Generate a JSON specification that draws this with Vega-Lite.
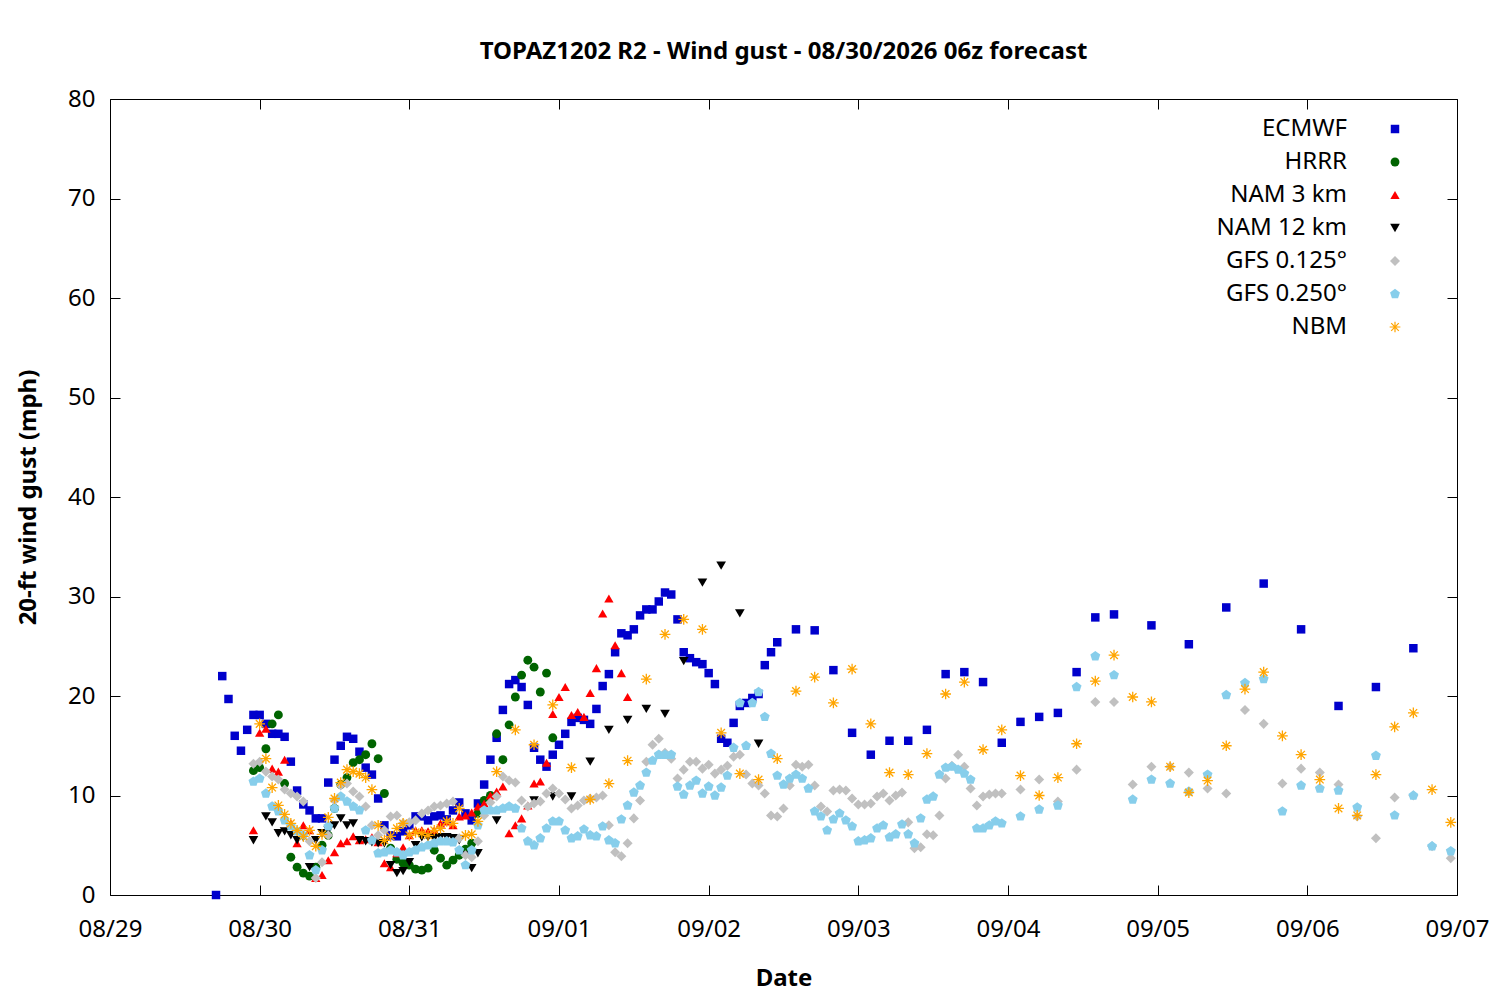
{
  "$schema": "https://vega.github.io/schema/vega-lite/v6.json",
  "width": 1347,
  "height": 796,
  "autosize": {"type": "none"},
  "padding": {"left": 110, "top": 99, "right": 43, "bottom": 105},
  "background": "white",
  "title": {
    "text": "TOPAZ1202 R2 - Wind gust - 08/30/2026 06z forecast",
    "font": "Noto Sans",
    "fontSize": 24,
    "fontWeight": "bold",
    "color": "black",
    "anchor": "middle",
    "offset": 23
  },
  "config": {
    "view": {"stroke": "black", "strokeWidth": 1},
    "axis": {
      "labelFont": "Noto Sans",
      "labelFontSize": 24,
      "labelColor": "black",
      "titleFont": "Noto Sans",
      "titleFontSize": 24,
      "titleFontWeight": "bold",
      "titleColor": "black",
      "grid": false,
      "domain": false,
      "tickColor": "black",
      "tickSize": -10,
      "tickWidth": 1
    },
    "legend": {
      "orient": "none",
      "legendX": 1273,
      "legendY": 18,
      "padding": 0,
      "labelFont": "Noto Sans",
      "labelFontSize": 24,
      "labelColor": "black",
      "labelAlign": "right",
      "labelOffset": -60,
      "symbolSize": 64,
      "symbolStrokeWidth": 1.2,
      "rowPadding": 9
    }
  },
  "data": {
    "values": [
      {"model":"ECMWF","hour":17,"gust":0},{"model":"ECMWF","hour":18,"gust":22},{"model":"ECMWF","hour":19,"gust":19.7},{"model":"ECMWF","hour":20,"gust":16},{"model":"ECMWF","hour":21,"gust":14.5},{"model":"ECMWF","hour":22,"gust":16.6},{"model":"ECMWF","hour":23,"gust":18.1},{"model":"ECMWF","hour":24,"gust":18.1},{"model":"ECMWF","hour":25,"gust":17.2},{"model":"ECMWF","hour":26,"gust":16.2},{"model":"ECMWF","hour":27,"gust":16.2},{"model":"ECMWF","hour":28,"gust":15.9},{"model":"ECMWF","hour":29,"gust":13.4},{"model":"ECMWF","hour":30,"gust":10.5},{"model":"ECMWF","hour":31,"gust":9.1},{"model":"ECMWF","hour":32,"gust":8.5},{"model":"ECMWF","hour":33,"gust":7.7},{"model":"ECMWF","hour":34,"gust":7.7},{"model":"ECMWF","hour":35,"gust":11.3},{"model":"ECMWF","hour":36,"gust":13.6},{"model":"ECMWF","hour":37,"gust":15},{"model":"ECMWF","hour":38,"gust":15.9},{"model":"ECMWF","hour":39,"gust":15.7},{"model":"ECMWF","hour":40,"gust":14.4},{"model":"ECMWF","hour":41,"gust":12.8},{"model":"ECMWF","hour":42,"gust":12.1},{"model":"ECMWF","hour":43,"gust":9.7},{"model":"ECMWF","hour":44,"gust":7},{"model":"ECMWF","hour":45,"gust":6},{"model":"ECMWF","hour":46,"gust":5.9},{"model":"ECMWF","hour":47,"gust":6.4},{"model":"ECMWF","hour":48,"gust":7},{"model":"ECMWF","hour":49,"gust":7.9},{"model":"ECMWF","hour":50,"gust":7.9},{"model":"ECMWF","hour":51,"gust":7.5},{"model":"ECMWF","hour":52,"gust":7.9},{"model":"ECMWF","hour":53,"gust":8},{"model":"ECMWF","hour":54,"gust":7.6},{"model":"ECMWF","hour":55,"gust":8.5},{"model":"ECMWF","hour":56,"gust":9.3},{"model":"ECMWF","hour":57,"gust":8.2},{"model":"ECMWF","hour":58,"gust":7.5},{"model":"ECMWF","hour":59,"gust":9.2},{"model":"ECMWF","hour":60,"gust":11.1},{"model":"ECMWF","hour":61,"gust":13.6},{"model":"ECMWF","hour":62,"gust":15.8},{"model":"ECMWF","hour":63,"gust":18.6},{"model":"ECMWF","hour":64,"gust":21.2},{"model":"ECMWF","hour":65,"gust":21.6},{"model":"ECMWF","hour":66,"gust":20.9},{"model":"ECMWF","hour":67,"gust":19.1},{"model":"ECMWF","hour":68,"gust":14.8},{"model":"ECMWF","hour":69,"gust":13.6},{"model":"ECMWF","hour":70,"gust":12.9},{"model":"ECMWF","hour":71,"gust":14.1},{"model":"ECMWF","hour":72,"gust":15.1},{"model":"ECMWF","hour":73,"gust":16.2},{"model":"ECMWF","hour":74,"gust":17.4},{"model":"ECMWF","hour":75,"gust":17.8},{"model":"ECMWF","hour":76,"gust":17.6},{"model":"ECMWF","hour":77,"gust":17.2},{"model":"ECMWF","hour":78,"gust":18.7},{"model":"ECMWF","hour":79,"gust":21},{"model":"ECMWF","hour":80,"gust":22.2},{"model":"ECMWF","hour":81,"gust":24.4},{"model":"ECMWF","hour":82,"gust":26.3},{"model":"ECMWF","hour":83,"gust":26.1},{"model":"ECMWF","hour":84,"gust":26.7},{"model":"ECMWF","hour":85,"gust":28.1},{"model":"ECMWF","hour":86,"gust":28.7},{"model":"ECMWF","hour":87,"gust":28.7},{"model":"ECMWF","hour":88,"gust":29.5},{"model":"ECMWF","hour":89,"gust":30.4},{"model":"ECMWF","hour":90,"gust":30.2},{"model":"ECMWF","hour":91,"gust":27.7},{"model":"ECMWF","hour":92,"gust":24.4},{"model":"ECMWF","hour":93,"gust":23.8},{"model":"ECMWF","hour":94,"gust":23.4},{"model":"ECMWF","hour":95,"gust":23.2},{"model":"ECMWF","hour":96,"gust":22.3},{"model":"ECMWF","hour":97,"gust":21.2},{"model":"ECMWF","hour":98,"gust":15.7},{"model":"ECMWF","hour":99,"gust":15.3},{"model":"ECMWF","hour":100,"gust":17.3},{"model":"ECMWF","hour":101,"gust":19},{"model":"ECMWF","hour":102,"gust":19.3},{"model":"ECMWF","hour":103,"gust":19.8},{"model":"ECMWF","hour":104,"gust":20.2},{"model":"ECMWF","hour":105,"gust":23.1},{"model":"ECMWF","hour":106,"gust":24.4},{"model":"ECMWF","hour":107,"gust":25.4},{"model":"ECMWF","hour":110,"gust":26.7},{"model":"ECMWF","hour":113,"gust":26.6},{"model":"ECMWF","hour":116,"gust":22.6},{"model":"ECMWF","hour":119,"gust":16.3},{"model":"ECMWF","hour":122,"gust":14.1},{"model":"ECMWF","hour":125,"gust":15.5},{"model":"ECMWF","hour":128,"gust":15.5},{"model":"ECMWF","hour":131,"gust":16.6},{"model":"ECMWF","hour":134,"gust":22.2},{"model":"ECMWF","hour":137,"gust":22.4},{"model":"ECMWF","hour":140,"gust":21.4},{"model":"ECMWF","hour":143,"gust":15.3},{"model":"ECMWF","hour":146,"gust":17.4},{"model":"ECMWF","hour":149,"gust":17.9},{"model":"ECMWF","hour":152,"gust":18.3},{"model":"ECMWF","hour":155,"gust":22.4},{"model":"ECMWF","hour":158,"gust":27.9},{"model":"ECMWF","hour":161,"gust":28.2},{"model":"ECMWF","hour":167,"gust":27.1},{"model":"ECMWF","hour":173,"gust":25.2},{"model":"ECMWF","hour":179,"gust":28.9},{"model":"ECMWF","hour":185,"gust":31.3},{"model":"ECMWF","hour":191,"gust":26.7},{"model":"ECMWF","hour":197,"gust":19},{"model":"ECMWF","hour":203,"gust":20.9},{"model":"ECMWF","hour":209,"gust":24.8},
      {"model":"HRRR","hour":23,"gust":12.5},{"model":"HRRR","hour":24,"gust":12.8},{"model":"HRRR","hour":25,"gust":14.7},{"model":"HRRR","hour":26,"gust":17.2},{"model":"HRRR","hour":27,"gust":18.1},{"model":"HRRR","hour":28,"gust":11.2},{"model":"HRRR","hour":29,"gust":3.8},{"model":"HRRR","hour":30,"gust":2.8},{"model":"HRRR","hour":31,"gust":2.2},{"model":"HRRR","hour":32,"gust":1.9},{"model":"HRRR","hour":33,"gust":2.8},{"model":"HRRR","hour":34,"gust":5},{"model":"HRRR","hour":35,"gust":6},{"model":"HRRR","hour":36,"gust":8.7},{"model":"HRRR","hour":37,"gust":11.1},{"model":"HRRR","hour":38,"gust":11.8},{"model":"HRRR","hour":39,"gust":13.3},{"model":"HRRR","hour":40,"gust":13.6},{"model":"HRRR","hour":41,"gust":14.1},{"model":"HRRR","hour":42,"gust":15.2},{"model":"HRRR","hour":43,"gust":13.7},{"model":"HRRR","hour":44,"gust":10.2},{"model":"HRRR","hour":45,"gust":4.7},{"model":"HRRR","hour":46,"gust":3.6},{"model":"HRRR","hour":47,"gust":3.2},{"model":"HRRR","hour":48,"gust":3},{"model":"HRRR","hour":49,"gust":2.6},{"model":"HRRR","hour":50,"gust":2.5},{"model":"HRRR","hour":51,"gust":2.7},{"model":"HRRR","hour":52,"gust":4.5},{"model":"HRRR","hour":53,"gust":3.7},{"model":"HRRR","hour":54,"gust":3},{"model":"HRRR","hour":55,"gust":3.5},{"model":"HRRR","hour":56,"gust":4},{"model":"HRRR","hour":57,"gust":4.6},{"model":"HRRR","hour":58,"gust":5.2},{"model":"HRRR","hour":59,"gust":8.2},{"model":"HRRR","hour":60,"gust":9.5},{"model":"HRRR","hour":61,"gust":10},{"model":"HRRR","hour":62,"gust":16.2},{"model":"HRRR","hour":63,"gust":13.6},{"model":"HRRR","hour":64,"gust":17.1},{"model":"HRRR","hour":65,"gust":19.9},{"model":"HRRR","hour":66,"gust":22.1},{"model":"HRRR","hour":67,"gust":23.6},{"model":"HRRR","hour":68,"gust":22.9},{"model":"HRRR","hour":69,"gust":20.4},{"model":"HRRR","hour":70,"gust":22.3},{"model":"HRRR","hour":71,"gust":15.8},
      {"model":"NAM 3 km","hour":23,"gust":6.5},{"model":"NAM 3 km","hour":24,"gust":16.3},{"model":"NAM 3 km","hour":25,"gust":16.7},{"model":"NAM 3 km","hour":26,"gust":12.7},{"model":"NAM 3 km","hour":27,"gust":12.4},{"model":"NAM 3 km","hour":28,"gust":13.6},{"model":"NAM 3 km","hour":29,"gust":7.2},{"model":"NAM 3 km","hour":30,"gust":5.2},{"model":"NAM 3 km","hour":31,"gust":7},{"model":"NAM 3 km","hour":32,"gust":6.5},{"model":"NAM 3 km","hour":33,"gust":1.7},{"model":"NAM 3 km","hour":34,"gust":2},{"model":"NAM 3 km","hour":35,"gust":3.5},{"model":"NAM 3 km","hour":36,"gust":4.3},{"model":"NAM 3 km","hour":37,"gust":5.2},{"model":"NAM 3 km","hour":38,"gust":5.4},{"model":"NAM 3 km","hour":39,"gust":5.9},{"model":"NAM 3 km","hour":40,"gust":5.5},{"model":"NAM 3 km","hour":41,"gust":5.6},{"model":"NAM 3 km","hour":42,"gust":5.8},{"model":"NAM 3 km","hour":43,"gust":5.3},{"model":"NAM 3 km","hour":44,"gust":3.2},{"model":"NAM 3 km","hour":45,"gust":2.8},{"model":"NAM 3 km","hour":46,"gust":4.2},{"model":"NAM 3 km","hour":47,"gust":4.8},{"model":"NAM 3 km","hour":48,"gust":6},{"model":"NAM 3 km","hour":49,"gust":6.5},{"model":"NAM 3 km","hour":50,"gust":6.5},{"model":"NAM 3 km","hour":51,"gust":6.4},{"model":"NAM 3 km","hour":52,"gust":6.5},{"model":"NAM 3 km","hour":53,"gust":7.2},{"model":"NAM 3 km","hour":54,"gust":7.4},{"model":"NAM 3 km","hour":55,"gust":7},{"model":"NAM 3 km","hour":56,"gust":7.9},{"model":"NAM 3 km","hour":57,"gust":8},{"model":"NAM 3 km","hour":58,"gust":8.3},{"model":"NAM 3 km","hour":59,"gust":8.9},{"model":"NAM 3 km","hour":60,"gust":9.2},{"model":"NAM 3 km","hour":61,"gust":10},{"model":"NAM 3 km","hour":62,"gust":10.4},{"model":"NAM 3 km","hour":63,"gust":10.9},{"model":"NAM 3 km","hour":64,"gust":6.2},{"model":"NAM 3 km","hour":65,"gust":7},{"model":"NAM 3 km","hour":66,"gust":7.7},{"model":"NAM 3 km","hour":67,"gust":9},{"model":"NAM 3 km","hour":68,"gust":11.2},{"model":"NAM 3 km","hour":69,"gust":11.4},{"model":"NAM 3 km","hour":70,"gust":13.3},{"model":"NAM 3 km","hour":71,"gust":18.2},{"model":"NAM 3 km","hour":72,"gust":19.9},{"model":"NAM 3 km","hour":73,"gust":20.9},{"model":"NAM 3 km","hour":74,"gust":18.1},{"model":"NAM 3 km","hour":75,"gust":18.4},{"model":"NAM 3 km","hour":76,"gust":17.9},{"model":"NAM 3 km","hour":77,"gust":20.3},{"model":"NAM 3 km","hour":78,"gust":22.8},{"model":"NAM 3 km","hour":79,"gust":28.3},{"model":"NAM 3 km","hour":80,"gust":29.8},{"model":"NAM 3 km","hour":81,"gust":25.1},{"model":"NAM 3 km","hour":82,"gust":22.3},{"model":"NAM 3 km","hour":83,"gust":19.9},
      {"model":"NAM 12 km","hour":23,"gust":5.5},{"model":"NAM 12 km","hour":25,"gust":7.9},{"model":"NAM 12 km","hour":26,"gust":7.3},{"model":"NAM 12 km","hour":27,"gust":6.2},{"model":"NAM 12 km","hour":28,"gust":6.4},{"model":"NAM 12 km","hour":29,"gust":6},{"model":"NAM 12 km","hour":30,"gust":5.5},{"model":"NAM 12 km","hour":31,"gust":5.8},{"model":"NAM 12 km","hour":32,"gust":2.8},{"model":"NAM 12 km","hour":33,"gust":5.5},{"model":"NAM 12 km","hour":34,"gust":6.2},{"model":"NAM 12 km","hour":35,"gust":6.5},{"model":"NAM 12 km","hour":36,"gust":7},{"model":"NAM 12 km","hour":37,"gust":7.7},{"model":"NAM 12 km","hour":38,"gust":7},{"model":"NAM 12 km","hour":39,"gust":7.2},{"model":"NAM 12 km","hour":40,"gust":5.5},{"model":"NAM 12 km","hour":41,"gust":5.4},{"model":"NAM 12 km","hour":42,"gust":5.3},{"model":"NAM 12 km","hour":43,"gust":5.2},{"model":"NAM 12 km","hour":44,"gust":5.2},{"model":"NAM 12 km","hour":45,"gust":3},{"model":"NAM 12 km","hour":46,"gust":2.2},{"model":"NAM 12 km","hour":47,"gust":2.4},{"model":"NAM 12 km","hour":48,"gust":3.3},{"model":"NAM 12 km","hour":49,"gust":5},{"model":"NAM 12 km","hour":50,"gust":5.8},{"model":"NAM 12 km","hour":51,"gust":5.8},{"model":"NAM 12 km","hour":52,"gust":5.7},{"model":"NAM 12 km","hour":53,"gust":5.8},{"model":"NAM 12 km","hour":54,"gust":5.8},{"model":"NAM 12 km","hour":55,"gust":5.7},{"model":"NAM 12 km","hour":56,"gust":5.5},{"model":"NAM 12 km","hour":57,"gust":4},{"model":"NAM 12 km","hour":58,"gust":2.7},{"model":"NAM 12 km","hour":59,"gust":4.2},{"model":"NAM 12 km","hour":62,"gust":7.5},{"model":"NAM 12 km","hour":68,"gust":9.5},{"model":"NAM 12 km","hour":71,"gust":9.9},{"model":"NAM 12 km","hour":74,"gust":9.9},{"model":"NAM 12 km","hour":77,"gust":13.4},{"model":"NAM 12 km","hour":80,"gust":16.6},{"model":"NAM 12 km","hour":83,"gust":17.6},{"model":"NAM 12 km","hour":86,"gust":18.7},{"model":"NAM 12 km","hour":89,"gust":18.2},{"model":"NAM 12 km","hour":92,"gust":23.5},{"model":"NAM 12 km","hour":95,"gust":31.4},{"model":"NAM 12 km","hour":98,"gust":33.1},{"model":"NAM 12 km","hour":101,"gust":28.3},{"model":"NAM 12 km","hour":104,"gust":15.2},
      {"model":"GFS 0.125°","hour":23,"gust":13.2},{"model":"GFS 0.125°","hour":24,"gust":13.4},{"model":"GFS 0.125°","hour":25,"gust":12.4},{"model":"GFS 0.125°","hour":26,"gust":11.9},{"model":"GFS 0.125°","hour":27,"gust":11.6},{"model":"GFS 0.125°","hour":28,"gust":10.6},{"model":"GFS 0.125°","hour":29,"gust":10.2},{"model":"GFS 0.125°","hour":30,"gust":9.9},{"model":"GFS 0.125°","hour":31,"gust":9.4},{"model":"GFS 0.125°","hour":32,"gust":5.4},{"model":"GFS 0.125°","hour":33,"gust":1.7},{"model":"GFS 0.125°","hour":34,"gust":3.3},{"model":"GFS 0.125°","hour":35,"gust":6},{"model":"GFS 0.125°","hour":36,"gust":9.5},{"model":"GFS 0.125°","hour":37,"gust":11},{"model":"GFS 0.125°","hour":38,"gust":11.2},{"model":"GFS 0.125°","hour":39,"gust":10.4},{"model":"GFS 0.125°","hour":40,"gust":9.9},{"model":"GFS 0.125°","hour":41,"gust":8.9},{"model":"GFS 0.125°","hour":42,"gust":7},{"model":"GFS 0.125°","hour":43,"gust":6},{"model":"GFS 0.125°","hour":44,"gust":6.5},{"model":"GFS 0.125°","hour":45,"gust":7.9},{"model":"GFS 0.125°","hour":46,"gust":8},{"model":"GFS 0.125°","hour":47,"gust":7.2},{"model":"GFS 0.125°","hour":48,"gust":7.3},{"model":"GFS 0.125°","hour":49,"gust":7.5},{"model":"GFS 0.125°","hour":50,"gust":8.2},{"model":"GFS 0.125°","hour":51,"gust":8.5},{"model":"GFS 0.125°","hour":52,"gust":8.9},{"model":"GFS 0.125°","hour":53,"gust":9},{"model":"GFS 0.125°","hour":54,"gust":9.2},{"model":"GFS 0.125°","hour":55,"gust":9.4},{"model":"GFS 0.125°","hour":56,"gust":5.7},{"model":"GFS 0.125°","hour":57,"gust":4},{"model":"GFS 0.125°","hour":58,"gust":3.8},{"model":"GFS 0.125°","hour":59,"gust":5.4},{"model":"GFS 0.125°","hour":60,"gust":8},{"model":"GFS 0.125°","hour":61,"gust":9.3},{"model":"GFS 0.125°","hour":62,"gust":9.9},{"model":"GFS 0.125°","hour":63,"gust":11.9},{"model":"GFS 0.125°","hour":64,"gust":11.5},{"model":"GFS 0.125°","hour":65,"gust":11.3},{"model":"GFS 0.125°","hour":66,"gust":9.5},{"model":"GFS 0.125°","hour":67,"gust":8.9},{"model":"GFS 0.125°","hour":68,"gust":9.2},{"model":"GFS 0.125°","hour":69,"gust":9.4},{"model":"GFS 0.125°","hour":70,"gust":10.2},{"model":"GFS 0.125°","hour":71,"gust":10.7},{"model":"GFS 0.125°","hour":72,"gust":10.2},{"model":"GFS 0.125°","hour":73,"gust":9.6},{"model":"GFS 0.125°","hour":74,"gust":8.7},{"model":"GFS 0.125°","hour":75,"gust":9},{"model":"GFS 0.125°","hour":76,"gust":9.5},{"model":"GFS 0.125°","hour":77,"gust":9.7},{"model":"GFS 0.125°","hour":78,"gust":9.8},{"model":"GFS 0.125°","hour":79,"gust":10},{"model":"GFS 0.125°","hour":80,"gust":7},{"model":"GFS 0.125°","hour":81,"gust":4.3},{"model":"GFS 0.125°","hour":82,"gust":3.9},{"model":"GFS 0.125°","hour":83,"gust":5.2},{"model":"GFS 0.125°","hour":84,"gust":7.7},{"model":"GFS 0.125°","hour":85,"gust":9.5},{"model":"GFS 0.125°","hour":86,"gust":13.4},{"model":"GFS 0.125°","hour":87,"gust":15.1},{"model":"GFS 0.125°","hour":88,"gust":15.7},{"model":"GFS 0.125°","hour":89,"gust":14.3},{"model":"GFS 0.125°","hour":90,"gust":13.7},{"model":"GFS 0.125°","hour":91,"gust":11.7},{"model":"GFS 0.125°","hour":92,"gust":12.6},{"model":"GFS 0.125°","hour":93,"gust":13.4},{"model":"GFS 0.125°","hour":94,"gust":13.4},{"model":"GFS 0.125°","hour":95,"gust":12.7},{"model":"GFS 0.125°","hour":96,"gust":13.1},{"model":"GFS 0.125°","hour":97,"gust":12.2},{"model":"GFS 0.125°","hour":98,"gust":12.6},{"model":"GFS 0.125°","hour":99,"gust":13},{"model":"GFS 0.125°","hour":100,"gust":13.9},{"model":"GFS 0.125°","hour":101,"gust":14.1},{"model":"GFS 0.125°","hour":102,"gust":12.1},{"model":"GFS 0.125°","hour":103,"gust":11.2},{"model":"GFS 0.125°","hour":104,"gust":11},{"model":"GFS 0.125°","hour":105,"gust":10.2},{"model":"GFS 0.125°","hour":106,"gust":8},{"model":"GFS 0.125°","hour":107,"gust":7.9},{"model":"GFS 0.125°","hour":108,"gust":8.7},{"model":"GFS 0.125°","hour":109,"gust":11},{"model":"GFS 0.125°","hour":110,"gust":13.1},{"model":"GFS 0.125°","hour":111,"gust":12.9},{"model":"GFS 0.125°","hour":112,"gust":13.1},{"model":"GFS 0.125°","hour":113,"gust":11},{"model":"GFS 0.125°","hour":114,"gust":8.9},{"model":"GFS 0.125°","hour":115,"gust":8.4},{"model":"GFS 0.125°","hour":116,"gust":10.5},{"model":"GFS 0.125°","hour":117,"gust":10.6},{"model":"GFS 0.125°","hour":118,"gust":10.5},{"model":"GFS 0.125°","hour":119,"gust":9.7},{"model":"GFS 0.125°","hour":120,"gust":9.1},{"model":"GFS 0.125°","hour":121,"gust":9.1},{"model":"GFS 0.125°","hour":122,"gust":9.2},{"model":"GFS 0.125°","hour":123,"gust":9.9},{"model":"GFS 0.125°","hour":124,"gust":10.2},{"model":"GFS 0.125°","hour":125,"gust":9.5},{"model":"GFS 0.125°","hour":126,"gust":10},{"model":"GFS 0.125°","hour":127,"gust":10.3},{"model":"GFS 0.125°","hour":128,"gust":7.3},{"model":"GFS 0.125°","hour":129,"gust":4.7},{"model":"GFS 0.125°","hour":130,"gust":4.8},{"model":"GFS 0.125°","hour":131,"gust":6.1},{"model":"GFS 0.125°","hour":132,"gust":6},{"model":"GFS 0.125°","hour":133,"gust":8},{"model":"GFS 0.125°","hour":134,"gust":11.7},{"model":"GFS 0.125°","hour":135,"gust":13},{"model":"GFS 0.125°","hour":136,"gust":14.1},{"model":"GFS 0.125°","hour":137,"gust":12.9},{"model":"GFS 0.125°","hour":138,"gust":10.7},{"model":"GFS 0.125°","hour":139,"gust":9},{"model":"GFS 0.125°","hour":140,"gust":9.9},{"model":"GFS 0.125°","hour":141,"gust":10.1},{"model":"GFS 0.125°","hour":142,"gust":10.2},{"model":"GFS 0.125°","hour":143,"gust":10.2},{"model":"GFS 0.125°","hour":146,"gust":10.6},{"model":"GFS 0.125°","hour":149,"gust":11.6},{"model":"GFS 0.125°","hour":152,"gust":9.4},{"model":"GFS 0.125°","hour":155,"gust":12.6},{"model":"GFS 0.125°","hour":158,"gust":19.4},{"model":"GFS 0.125°","hour":161,"gust":19.4},{"model":"GFS 0.125°","hour":164,"gust":11.1},{"model":"GFS 0.125°","hour":167,"gust":12.9},{"model":"GFS 0.125°","hour":170,"gust":12.9},{"model":"GFS 0.125°","hour":173,"gust":12.3},{"model":"GFS 0.125°","hour":176,"gust":10.7},{"model":"GFS 0.125°","hour":179,"gust":10.2},{"model":"GFS 0.125°","hour":182,"gust":18.6},{"model":"GFS 0.125°","hour":185,"gust":17.2},{"model":"GFS 0.125°","hour":188,"gust":11.2},{"model":"GFS 0.125°","hour":191,"gust":12.7},{"model":"GFS 0.125°","hour":194,"gust":12.3},{"model":"GFS 0.125°","hour":197,"gust":11.1},{"model":"GFS 0.125°","hour":200,"gust":7.9},{"model":"GFS 0.125°","hour":203,"gust":5.7},{"model":"GFS 0.125°","hour":206,"gust":9.8},{"model":"GFS 0.125°","hour":209,"gust":10},{"model":"GFS 0.125°","hour":212,"gust":4.9},{"model":"GFS 0.125°","hour":215,"gust":3.7},
      {"model":"GFS 0.250°","hour":23,"gust":11.4},{"model":"GFS 0.250°","hour":24,"gust":11.7},{"model":"GFS 0.250°","hour":25,"gust":10.2},{"model":"GFS 0.250°","hour":26,"gust":8.9},{"model":"GFS 0.250°","hour":27,"gust":8.4},{"model":"GFS 0.250°","hour":28,"gust":7.5},{"model":"GFS 0.250°","hour":29,"gust":6.9},{"model":"GFS 0.250°","hour":30,"gust":6.4},{"model":"GFS 0.250°","hour":31,"gust":6},{"model":"GFS 0.250°","hour":32,"gust":4},{"model":"GFS 0.250°","hour":33,"gust":2.5},{"model":"GFS 0.250°","hour":34,"gust":4.5},{"model":"GFS 0.250°","hour":35,"gust":6.9},{"model":"GFS 0.250°","hour":36,"gust":8.7},{"model":"GFS 0.250°","hour":37,"gust":9.9},{"model":"GFS 0.250°","hour":38,"gust":9.4},{"model":"GFS 0.250°","hour":39,"gust":8.9},{"model":"GFS 0.250°","hour":40,"gust":8.5},{"model":"GFS 0.250°","hour":41,"gust":6.5},{"model":"GFS 0.250°","hour":42,"gust":5.5},{"model":"GFS 0.250°","hour":43,"gust":4.2},{"model":"GFS 0.250°","hour":44,"gust":4.3},{"model":"GFS 0.250°","hour":45,"gust":4.5},{"model":"GFS 0.250°","hour":46,"gust":4.3},{"model":"GFS 0.250°","hour":47,"gust":4},{"model":"GFS 0.250°","hour":48,"gust":4.3},{"model":"GFS 0.250°","hour":49,"gust":4.5},{"model":"GFS 0.250°","hour":50,"gust":4.8},{"model":"GFS 0.250°","hour":51,"gust":5},{"model":"GFS 0.250°","hour":52,"gust":5.2},{"model":"GFS 0.250°","hour":53,"gust":5.4},{"model":"GFS 0.250°","hour":54,"gust":5.4},{"model":"GFS 0.250°","hour":55,"gust":5.3},{"model":"GFS 0.250°","hour":56,"gust":4.5},{"model":"GFS 0.250°","hour":57,"gust":3},{"model":"GFS 0.250°","hour":58,"gust":4.5},{"model":"GFS 0.250°","hour":59,"gust":7},{"model":"GFS 0.250°","hour":60,"gust":8.5},{"model":"GFS 0.250°","hour":61,"gust":8.5},{"model":"GFS 0.250°","hour":62,"gust":8.5},{"model":"GFS 0.250°","hour":63,"gust":8.7},{"model":"GFS 0.250°","hour":64,"gust":8.9},{"model":"GFS 0.250°","hour":65,"gust":8.7},{"model":"GFS 0.250°","hour":66,"gust":6.7},{"model":"GFS 0.250°","hour":67,"gust":5.4},{"model":"GFS 0.250°","hour":68,"gust":5},{"model":"GFS 0.250°","hour":69,"gust":5.7},{"model":"GFS 0.250°","hour":70,"gust":6.7},{"model":"GFS 0.250°","hour":71,"gust":7.4},{"model":"GFS 0.250°","hour":72,"gust":7.4},{"model":"GFS 0.250°","hour":73,"gust":6.5},{"model":"GFS 0.250°","hour":74,"gust":5.7},{"model":"GFS 0.250°","hour":75,"gust":5.9},{"model":"GFS 0.250°","hour":76,"gust":6.6},{"model":"GFS 0.250°","hour":77,"gust":6},{"model":"GFS 0.250°","hour":78,"gust":5.9},{"model":"GFS 0.250°","hour":79,"gust":6.9},{"model":"GFS 0.250°","hour":80,"gust":5.5},{"model":"GFS 0.250°","hour":81,"gust":5.2},{"model":"GFS 0.250°","hour":82,"gust":7.6},{"model":"GFS 0.250°","hour":83,"gust":9},{"model":"GFS 0.250°","hour":84,"gust":10.3},{"model":"GFS 0.250°","hour":85,"gust":11},{"model":"GFS 0.250°","hour":86,"gust":12.3},{"model":"GFS 0.250°","hour":87,"gust":13.5},{"model":"GFS 0.250°","hour":88,"gust":14.1},{"model":"GFS 0.250°","hour":89,"gust":14.1},{"model":"GFS 0.250°","hour":90,"gust":14.1},{"model":"GFS 0.250°","hour":91,"gust":10.9},{"model":"GFS 0.250°","hour":92,"gust":10.1},{"model":"GFS 0.250°","hour":93,"gust":11},{"model":"GFS 0.250°","hour":94,"gust":11.5},{"model":"GFS 0.250°","hour":95,"gust":10.2},{"model":"GFS 0.250°","hour":96,"gust":10.9},{"model":"GFS 0.250°","hour":97,"gust":10},{"model":"GFS 0.250°","hour":98,"gust":10.8},{"model":"GFS 0.250°","hour":99,"gust":12},{"model":"GFS 0.250°","hour":100,"gust":14.8},{"model":"GFS 0.250°","hour":101,"gust":19.3},{"model":"GFS 0.250°","hour":102,"gust":15},{"model":"GFS 0.250°","hour":103,"gust":19.3},{"model":"GFS 0.250°","hour":104,"gust":20.4},{"model":"GFS 0.250°","hour":105,"gust":17.9},{"model":"GFS 0.250°","hour":106,"gust":14.2},{"model":"GFS 0.250°","hour":107,"gust":12},{"model":"GFS 0.250°","hour":108,"gust":11.1},{"model":"GFS 0.250°","hour":109,"gust":11.7},{"model":"GFS 0.250°","hour":110,"gust":12.1},{"model":"GFS 0.250°","hour":111,"gust":11.7},{"model":"GFS 0.250°","hour":112,"gust":10.7},{"model":"GFS 0.250°","hour":113,"gust":8.4},{"model":"GFS 0.250°","hour":114,"gust":7.9},{"model":"GFS 0.250°","hour":115,"gust":6.5},{"model":"GFS 0.250°","hour":116,"gust":7.6},{"model":"GFS 0.250°","hour":117,"gust":8.2},{"model":"GFS 0.250°","hour":118,"gust":7.5},{"model":"GFS 0.250°","hour":119,"gust":6.9},{"model":"GFS 0.250°","hour":120,"gust":5.4},{"model":"GFS 0.250°","hour":121,"gust":5.5},{"model":"GFS 0.250°","hour":122,"gust":5.7},{"model":"GFS 0.250°","hour":123,"gust":6.7},{"model":"GFS 0.250°","hour":124,"gust":7},{"model":"GFS 0.250°","hour":125,"gust":5.8},{"model":"GFS 0.250°","hour":126,"gust":6.1},{"model":"GFS 0.250°","hour":127,"gust":7.1},{"model":"GFS 0.250°","hour":128,"gust":6.1},{"model":"GFS 0.250°","hour":129,"gust":5.2},{"model":"GFS 0.250°","hour":130,"gust":7.7},{"model":"GFS 0.250°","hour":131,"gust":9.6},{"model":"GFS 0.250°","hour":132,"gust":9.9},{"model":"GFS 0.250°","hour":133,"gust":12.1},{"model":"GFS 0.250°","hour":134,"gust":12.8},{"model":"GFS 0.250°","hour":135,"gust":12.9},{"model":"GFS 0.250°","hour":136,"gust":12.6},{"model":"GFS 0.250°","hour":137,"gust":12.2},{"model":"GFS 0.250°","hour":138,"gust":11.6},{"model":"GFS 0.250°","hour":139,"gust":6.7},{"model":"GFS 0.250°","hour":140,"gust":6.7},{"model":"GFS 0.250°","hour":141,"gust":7},{"model":"GFS 0.250°","hour":142,"gust":7.4},{"model":"GFS 0.250°","hour":143,"gust":7.2},{"model":"GFS 0.250°","hour":146,"gust":7.9},{"model":"GFS 0.250°","hour":149,"gust":8.6},{"model":"GFS 0.250°","hour":152,"gust":9},{"model":"GFS 0.250°","hour":155,"gust":20.9},{"model":"GFS 0.250°","hour":158,"gust":24},{"model":"GFS 0.250°","hour":161,"gust":22.1},{"model":"GFS 0.250°","hour":164,"gust":9.6},{"model":"GFS 0.250°","hour":167,"gust":11.6},{"model":"GFS 0.250°","hour":170,"gust":11.2},{"model":"GFS 0.250°","hour":173,"gust":10.4},{"model":"GFS 0.250°","hour":176,"gust":12.1},{"model":"GFS 0.250°","hour":179,"gust":20.1},{"model":"GFS 0.250°","hour":182,"gust":21.3},{"model":"GFS 0.250°","hour":185,"gust":21.7},{"model":"GFS 0.250°","hour":188,"gust":8.4},{"model":"GFS 0.250°","hour":191,"gust":11},{"model":"GFS 0.250°","hour":194,"gust":10.7},{"model":"GFS 0.250°","hour":197,"gust":10.5},{"model":"GFS 0.250°","hour":200,"gust":8.8},{"model":"GFS 0.250°","hour":203,"gust":14},{"model":"GFS 0.250°","hour":206,"gust":8},{"model":"GFS 0.250°","hour":209,"gust":10},{"model":"GFS 0.250°","hour":212,"gust":4.9},{"model":"GFS 0.250°","hour":215,"gust":4.4},
      {"model":"NBM","hour":24,"gust":17.2},{"model":"NBM","hour":25,"gust":13.7},{"model":"NBM","hour":26,"gust":10.8},{"model":"NBM","hour":27,"gust":9},{"model":"NBM","hour":28,"gust":8.1},{"model":"NBM","hour":29,"gust":7.2},{"model":"NBM","hour":30,"gust":6.5},{"model":"NBM","hour":31,"gust":5.9},{"model":"NBM","hour":32,"gust":6.5},{"model":"NBM","hour":33,"gust":4.9},{"model":"NBM","hour":34,"gust":6.1},{"model":"NBM","hour":35,"gust":7.8},{"model":"NBM","hour":36,"gust":9.7},{"model":"NBM","hour":37,"gust":11.3},{"model":"NBM","hour":38,"gust":12.6},{"model":"NBM","hour":39,"gust":12.4},{"model":"NBM","hour":40,"gust":12.2},{"model":"NBM","hour":41,"gust":11.8},{"model":"NBM","hour":42,"gust":10.6},{"model":"NBM","hour":43,"gust":7},{"model":"NBM","hour":44,"gust":5.5},{"model":"NBM","hour":45,"gust":5.9},{"model":"NBM","hour":46,"gust":6.7},{"model":"NBM","hour":47,"gust":7.2},{"model":"NBM","hour":48,"gust":6},{"model":"NBM","hour":49,"gust":6.3},{"model":"NBM","hour":50,"gust":6.2},{"model":"NBM","hour":51,"gust":6},{"model":"NBM","hour":52,"gust":6.5},{"model":"NBM","hour":53,"gust":6.7},{"model":"NBM","hour":54,"gust":7.4},{"model":"NBM","hour":55,"gust":7.2},{"model":"NBM","hour":56,"gust":8.7},{"model":"NBM","hour":57,"gust":6},{"model":"NBM","hour":58,"gust":6.1},{"model":"NBM","hour":59,"gust":7.4},{"model":"NBM","hour":62,"gust":12.4},{"model":"NBM","hour":65,"gust":16.6},{"model":"NBM","hour":68,"gust":15.1},{"model":"NBM","hour":71,"gust":19.1},{"model":"NBM","hour":74,"gust":12.8},{"model":"NBM","hour":77,"gust":9.6},{"model":"NBM","hour":80,"gust":11.2},{"model":"NBM","hour":83,"gust":13.5},{"model":"NBM","hour":86,"gust":21.7},{"model":"NBM","hour":89,"gust":26.2},{"model":"NBM","hour":92,"gust":27.7},{"model":"NBM","hour":95,"gust":26.7},{"model":"NBM","hour":98,"gust":16.3},{"model":"NBM","hour":101,"gust":12.2},{"model":"NBM","hour":104,"gust":11.6},{"model":"NBM","hour":107,"gust":13.7},{"model":"NBM","hour":110,"gust":20.5},{"model":"NBM","hour":113,"gust":21.9},{"model":"NBM","hour":116,"gust":19.3},{"model":"NBM","hour":119,"gust":22.7},{"model":"NBM","hour":122,"gust":17.2},{"model":"NBM","hour":125,"gust":12.3},{"model":"NBM","hour":128,"gust":12.1},{"model":"NBM","hour":131,"gust":14.2},{"model":"NBM","hour":134,"gust":20.2},{"model":"NBM","hour":137,"gust":21.4},{"model":"NBM","hour":140,"gust":14.6},{"model":"NBM","hour":143,"gust":16.6},{"model":"NBM","hour":146,"gust":12},{"model":"NBM","hour":149,"gust":10},{"model":"NBM","hour":152,"gust":11.8},{"model":"NBM","hour":155,"gust":15.2},{"model":"NBM","hour":158,"gust":21.5},{"model":"NBM","hour":161,"gust":24.1},{"model":"NBM","hour":164,"gust":19.9},{"model":"NBM","hour":167,"gust":19.4},{"model":"NBM","hour":170,"gust":12.9},{"model":"NBM","hour":173,"gust":10.3},{"model":"NBM","hour":176,"gust":11.5},{"model":"NBM","hour":179,"gust":15},{"model":"NBM","hour":182,"gust":20.7},{"model":"NBM","hour":185,"gust":22.4},{"model":"NBM","hour":188,"gust":16},{"model":"NBM","hour":191,"gust":14.1},{"model":"NBM","hour":194,"gust":11.6},{"model":"NBM","hour":197,"gust":8.7},{"model":"NBM","hour":200,"gust":8},{"model":"NBM","hour":203,"gust":12.1},{"model":"NBM","hour":206,"gust":16.9},{"model":"NBM","hour":209,"gust":18.3},{"model":"NBM","hour":212,"gust":10.6},{"model":"NBM","hour":215,"gust":7.3}
    ]
  },
  "layer": [
    {
      "mark": {"type": "point", "filled": true, "opacity": 1, "strokeWidth": 1.3},
      "encoding": {
        "x": {
          "field": "hour",
          "type": "quantitative",
          "scale": {"domain": [0, 216], "nice": false, "zero": false},
          "axis": {
            "values": [0, 24, 48, 72, 96, 120, 144, 168, 192, 216],
            "labelExpr": "timeFormat(datetime(2026, 7, 29 + datum.value / 24), '%m/%d')",
            "labelPadding": 32,
            "labelFlush": false,
            "labelOverlap": false,
            "title": "Date",
            "titlePadding": 25
          }
        },
        "y": {
          "field": "gust",
          "type": "quantitative",
          "scale": {"domain": [0, 80], "nice": false, "zero": true},
          "axis": {
            "values": [0, 10, 20, 30, 40, 50, 60, 70, 80],
            "labelPadding": 25,
            "title": "20-ft wind gust (mph)",
            "titlePadding": 27
          }
        },
        "color": {
          "field": "model",
          "type": "nominal",
          "scale": {
            "domain": ["ECMWF", "HRRR", "NAM 3 km", "NAM 12 km", "GFS 0.125°", "GFS 0.250°", "NBM"],
            "range": ["#0000cc", "#006400", "#ff0000", "#000000", "#c0c0c0", "#87ceeb", "#ffa500"]
          },
          "legend": {"title": null}
        },
        "shape": {
          "field": "model",
          "type": "nominal",
          "scale": {
            "domain": ["ECMWF", "HRRR", "NAM 3 km", "NAM 12 km", "GFS 0.125°", "GFS 0.250°", "NBM"],
            "range": ["square", "circle", "triangle-up", "triangle-down", "diamond", "M0,-1L0.951,-0.309L0.588,0.809L-0.588,0.809L-0.951,-0.309Z", "M-1,0L1,0M0,-1L0,1M-0.71,-0.71L0.71,0.71M-0.71,0.71L0.71,-0.71"]
          },
          "legend": {"title": null}
        },
        "stroke": {
          "field": "model",
          "type": "nominal",
          "scale": {
            "domain": ["ECMWF", "HRRR", "NAM 3 km", "NAM 12 km", "GFS 0.125°", "GFS 0.250°", "NBM"],
            "range": ["transparent", "transparent", "transparent", "transparent", "transparent", "transparent", "#ffa500"]
          },
          "legend": {"title": null}
        },
        "size": {
          "field": "model",
          "type": "nominal",
          "scale": {
            "domain": ["ECMWF", "HRRR", "NAM 3 km", "NAM 12 km", "GFS 0.125°", "GFS 0.250°", "NBM"],
            "range": [72, 115, 140, 140, 110, 130, 160]
          },
          "legend": null
        }
      }
    },
    {
      "mark": {"type": "point", "opacity": 0},
      "encoding": {
        "x": {
          "field": "hour",
          "type": "quantitative",
          "scale": {"domain": [0, 216], "nice": false, "zero": false},
          "axis": {"orient": "top", "values": [0, 24, 48, 72, 96, 120, 144, 168, 192, 216], "labels": false, "title": null}
        },
        "y": {
          "field": "gust",
          "type": "quantitative",
          "scale": {"domain": [0, 80], "nice": false, "zero": true},
          "axis": {"orient": "right", "values": [0, 10, 20, 30, 40, 50, 60, 70, 80], "labels": false, "title": null}
        }
      }
    }
  ],
  "resolve": {"axis": {"x": "independent", "y": "independent"}}
}
